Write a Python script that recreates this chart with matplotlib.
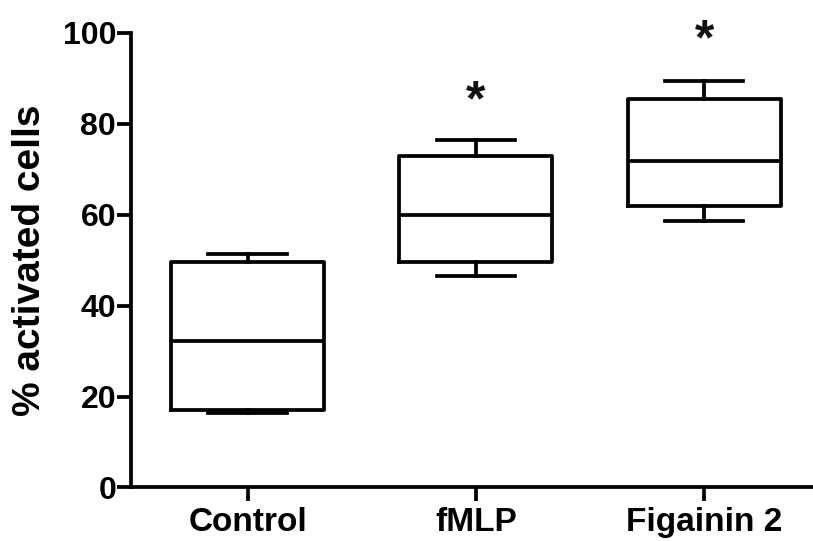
import matplotlib.pyplot as plt

# Box-and-whisker summary (min / Q1 / median / Q3 / max) per group
groups = ["Control", "fMLP", "Figainin 2"]
whisker_low = [16.3, 46.5, 58.7]
q1 = [17.0, 49.6, 62.0]
median = [32.1, 59.9, 71.8]
q3 = [49.6, 72.9, 85.4]
whisker_high = [51.3, 76.4, 89.4]

# significance markers (group index, height of the asterisk)
star_groups = [1, 2]
star_heights = [86.7, 100.1]

plt.rcParams["font.family"] = ["Liberation Sans", "DejaVu Sans"]
plt.rcParams["font.weight"] = "bold"

fig = plt.figure(figsize=(8.13, 5.41), dpi=100)
ax = fig.add_axes([0.1617, 0.0989, 0.8383, 0.8407])

stats = []
for i, name in enumerate(groups):
    stats.append({
        "label": name,
        "whislo": whisker_low[i],
        "q1": q1[i],
        "med": median[i],
        "q3": q3[i],
        "whishi": whisker_high[i],
        "fliers": [],
    })

lw = 2.7
line = dict(color="black", linewidth=lw)
ax.bxp(stats, positions=range(len(groups)), widths=0.67, capwidths=0.345,
       showfliers=False, boxprops=line, medianprops=line,
       whiskerprops=line, capprops=line)

# asterisk glyph sits high in its box, so shift the baseline down
for g, h in zip(star_groups, star_heights):
    ax.annotate("*", xy=(g, h), xytext=(0, -16), textcoords="offset points",
                ha="center", va="baseline", fontsize=36, fontweight="bold",
                color="#111111", annotation_clip=False)

ax.set_xlim(-0.509, 2.477)
ax.set_ylim(0, 100)
ax.set_yticks([0, 20, 40, 60, 80, 100])
ax.set_xticks(range(len(groups)))
ax.set_xticklabels(groups, fontsize=24)
ax.set_ylabel("% activated cells", fontsize=28, fontweight="bold")
ax.yaxis.set_label_coords(-0.123, 0.5)

for side in ["top", "right"]:
    ax.spines[side].set_visible(False)
for side in ["left", "bottom"]:
    ax.spines[side].set_linewidth(lw)

ax.tick_params(axis="both", width=lw, length=10, color="black")
ax.tick_params(axis="y", pad=1, labelsize=23)
ax.tick_params(axis="x", pad=4)
for lab in ax.get_xticklabels() + ax.get_yticklabels():
    lab.set_fontweight("bold")

fig.savefig("out.png", dpi=100, facecolor="white")
